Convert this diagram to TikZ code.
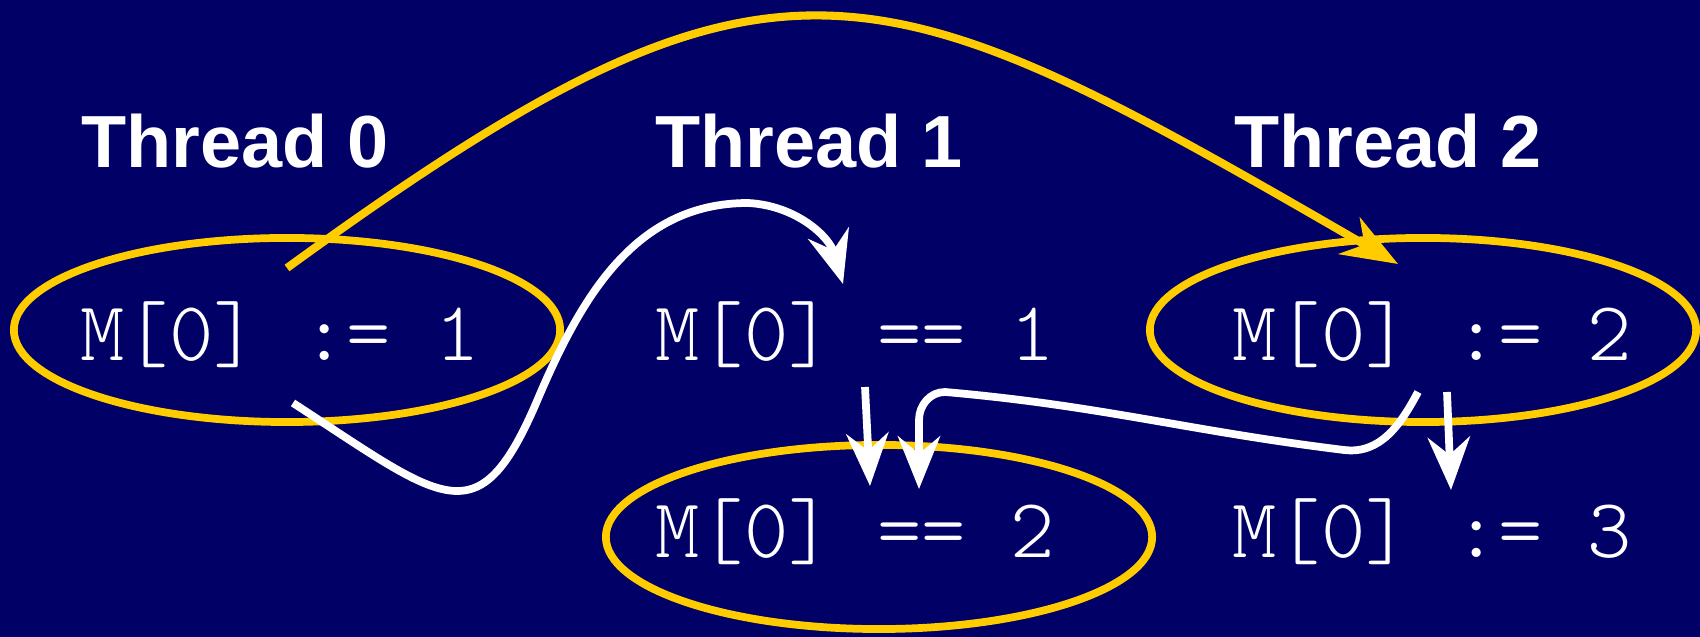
\documentclass[tikz,border=0pt]{standalone}
\usepackage{fontspec}
\usepackage{tikz}
\usetikzlibrary{arrows.meta, calc}
\newfontfamily\headfont{Liberation Sans}
\newfontfamily\codefont{lmmonolt10-regular.otf}
\definecolor{Navy}{HTML}{000066}
\definecolor{Gold}{HTML}{FFCC00}

\tikzset{
  thread/.style={text=white, anchor=base, font=\headfont\bfseries\fontsize{21}{25}\selectfont},
  stmt/.style={text=white, anchor=base, font=\codefont\fontsize{24}{29}\selectfont},
  ring/.style={draw=Gold, line width=2.2pt},
  flowarrow/.style={draw=white, line width=2.2pt, -{Stealth[length=15pt, width=12pt, inset=5pt]}},
  orderarrow/.style={draw=Gold, line width=2.3pt, -{Stealth[length=16pt, width=12pt, inset=5pt]}}
}

\begin{document}
\begin{tikzpicture}[x=0.01cm, y=0.01cm]
  \fill[Navy] (0,0) rectangle (1700,637);
  \useasboundingbox (0,0) rectangle (1700,637);

  % thread headers
  \node[thread] (th0) at (235,469) {Thread 0};
  \node[thread] (th1) at (809,469) {Thread 1};
  \node[thread] (th2) at (1388,469) {Thread 2};

  % memory operations
  \node[stmt] (s0) at (280,276) {M[0] := 1};
  \node[stmt] (s1) at (855,276) {M[0] == 1};
  \node[stmt] (s2) at (1432,276) {M[0] := 2};
  \node[stmt] (s3) at (855,79) {M[0] == 2};
  \node[stmt] (s4) at (1432,79) {M[0] := 3};

  \draw[ring] (287,307) ellipse [x radius=2.73cm, y radius=0.92cm];
  \draw[ring] (879,100) ellipse [x radius=2.73cm, y radius=0.92cm];
  \draw[ring] (1423,307) ellipse [x radius=2.73cm, y radius=0.92cm];

  % arrow ends
  \coordinate (y0) at (287,369);
  \coordinate (y1) at (1398,373);
  \coordinate (c0) at (293,234);
  \coordinate (c1) at (843,353);
  \coordinate (c2) at (1418,245);
  \coordinate (c3) at (919,148);
  \coordinate (c4) at (865,250);
  \coordinate (c5) at (870,151);
  \coordinate (c6) at (1447,245);
  \coordinate (c7) at (1451,147);

  \draw[orderarrow] (y0) .. controls (778,726) and (871,678) .. (y1);
  \draw[flowarrow] (c0) .. controls (444,136) and (478,98) .. (537,236)
    to[out=67, in=180] (748,434) to[out=-3, in=106] (c1);
  \draw[flowarrow] (c2) to[out=-118, in=-7] (1344,187) to[out=173, in=-5] (945,245)
    to[out=180, in=90] (919,217) -- (c3);
  \draw[flowarrow] (c4) -- (c5);
  \draw[flowarrow] (c6) -- (c7);
\end{tikzpicture}
\end{document}
